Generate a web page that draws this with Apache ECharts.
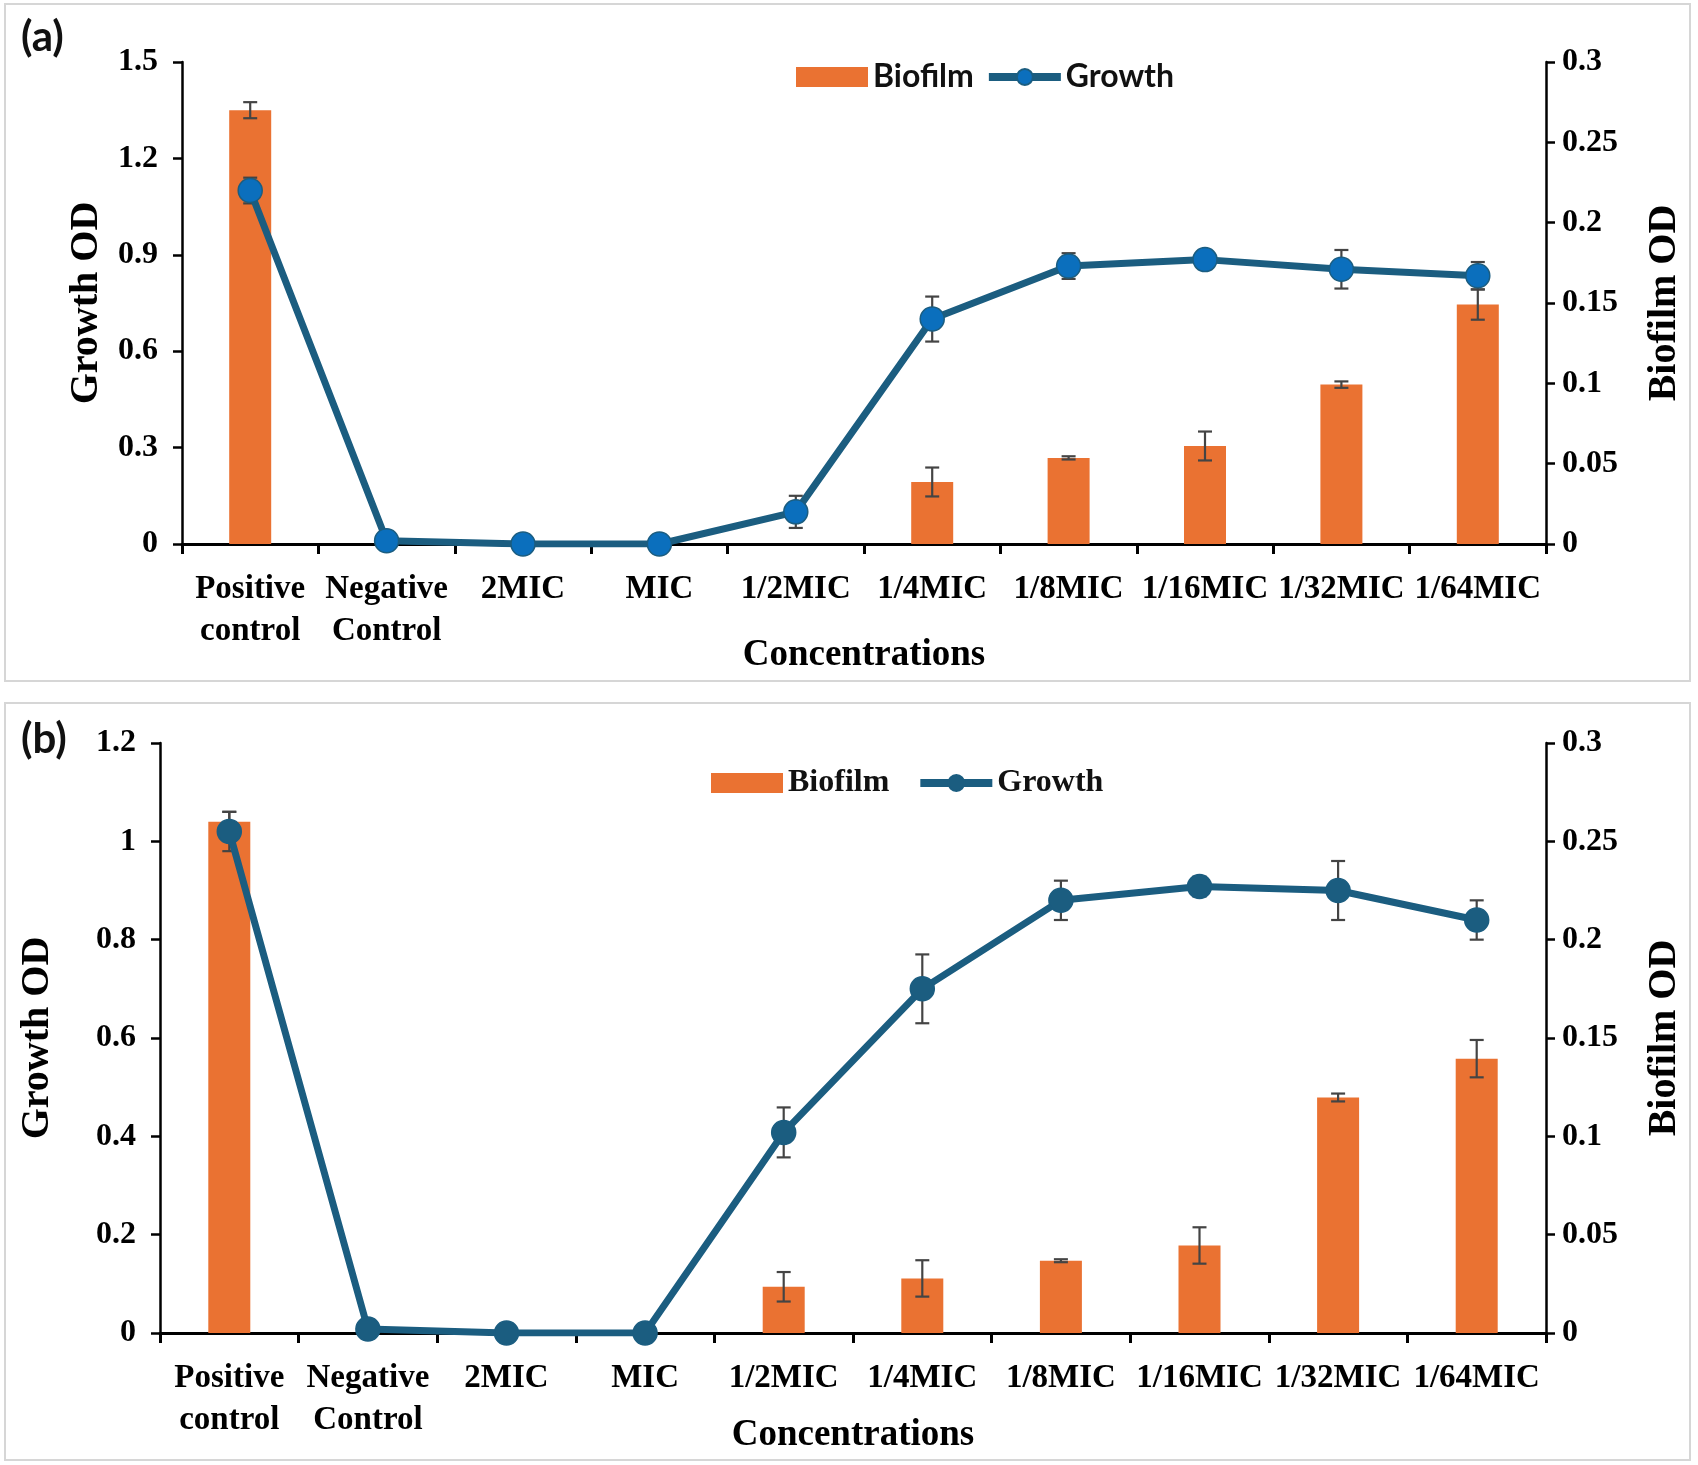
<!DOCTYPE html>
<html>
<head>
<meta charset="utf-8">
<script src="https://cdn.jsdelivr.net/npm/echarts@6/dist/echarts.min.js"></script>
<style>
  html, body { margin: 0; padding: 0; background: #fff; }
  #chart { width: 1698px; height: 1465px; }
</style>
</head>
<body>
<div id="chart"></div>
<script>
// categories (x axis)
var cats = ['Positive\ncontrol', 'Negative\nControl', '2MIC', 'MIC', '1/2MIC', '1/4MIC', '1/8MIC', '1/16MIC', '1/32MIC', '1/64MIC'];

// panel (a)
var biofilmA    = [1.35, 0, 0, 0, 0, 0.193, 0.268, 0.305, 0.496, 0.745];
var biofilmErrA = [0.025, 0, 0, 0, 0, 0.045, 0.005, 0.045, 0.01, 0.047];
var growthA     = [0.22, 0.002, 0, 0, 0.02, 0.14, 0.173, 0.177, 0.171, 0.167];
var growthErrA  = [0.008, 0, 0, 0, 0.01, 0.014, 0.008, 0.002, 0.012, 0.0085];

// panel (b)
var biofilmB    = [1.04, 0, 0, 0, 0.094, 0.111, 0.147, 0.178, 0.479, 0.558];
var biofilmErrB = [0.02, 0, 0, 0, 0.03, 0.037, 0.003, 0.037, 0.008, 0.038];
var growthB     = [0.255, 0.002, 0, 0, 0.102, 0.175, 0.22, 0.227, 0.225, 0.21];
var growthErrB  = [0.01, 0, 0, 0, 0.0127, 0.0175, 0.01, 0.005, 0.015, 0.01];

// tick labels
var leftTicksA  = [0, 0.3, 0.6, 0.9, 1.2, 1.5];
var leftTicksB  = [0, 0.2, 0.4, 0.6, 0.8, 1, 1.2];
var rightTicks  = [0, 0.05, 0.1, 0.15, 0.2, 0.25, 0.3];

var barColor = '#EA7232';
var lineColor = '#1B5D80';
var serif = 'Liberation Serif';

var chart = echarts.init(document.getElementById('chart'));

function fmt(v) { return String(+v.toFixed(3)); }

// 误差线
function errSeries(vals, errs, xi, yi, z) {
  return {
    type: 'custom',
    xAxisIndex: xi,
    yAxisIndex: yi,
    z: z,
    silent: true,
    data: vals.map(function (v, i) { return [i, v, errs[i]]; }),
    renderItem: function (params, api) {
      var e = api.value(2);
      if (!e) return;
      var x = api.value(0), v = api.value(1);
      var top = api.coord([x, v + e]);
      var bot = api.coord([x, v - e]);
      var hw = 7;
      var st = { stroke: '#444', lineWidth: 2.2 };
      return {
        type: 'group',
        children: [
          { type: 'line', shape: { x1: top[0], y1: top[1], x2: bot[0], y2: bot[1] }, style: st },
          { type: 'line', shape: { x1: top[0] - hw, y1: top[1], x2: top[0] + hw, y2: top[1] }, style: st },
          { type: 'line', shape: { x1: bot[0] - hw, y1: bot[1], x2: bot[0] + hw, y2: bot[1] }, style: st }
        ]
      };
    }
  };
}

function xAxis(gi, nameGap) {
  return {
    type: 'category',
    gridIndex: gi,
    data: cats,
    boundaryGap: true,
    axisLine: { lineStyle: { color: '#000', width: 3 } },
    axisTick: { show: true, length: 10, lineStyle: { color: '#000', width: 3 } },
    axisLabel: { interval: 0, color: '#000', fontFamily: serif, fontWeight: 'bold', fontSize: 33, lineHeight: 42, margin: 24 },
    name: 'Concentrations',
    nameLocation: 'middle',
    nameGap: nameGap,
    nameMoveOverlap: false,
    nameTextStyle: { color: '#000', fontFamily: serif, fontWeight: 'bold', fontSize: 37 }
  };
}

function yAxis(gi, ticks, pos, name, nameGap) {
  return {
    type: 'value',
    gridIndex: gi,
    position: pos,
    min: ticks[0],
    max: ticks[ticks.length - 1],
    interval: ticks[1] - ticks[0],
    splitLine: { show: false },
    axisLine: { show: true, lineStyle: { color: '#000', width: 2.5 } },
    axisTick: { show: true, inside: false, length: 9, lineStyle: { color: '#000', width: 2.5 } },
    axisLabel: { color: '#000', fontFamily: serif, fontWeight: 'bold', fontSize: 32, margin: pos === 'left' ? 24 : 16, formatter: fmt },
    name: name,
    nameLocation: 'middle',
    nameRotate: 90,
    nameGap: nameGap,
    nameMoveOverlap: false,
    nameTextStyle: { color: '#000', fontFamily: serif, fontWeight: 'bold', fontSize: 40 }
  };
}

function barSeries(vals, xi, yi) {
  return {
    name: 'Biofilm', type: 'bar', xAxisIndex: xi, yAxisIndex: yi,
    data: vals, barWidth: 42, z: 2,
    itemStyle: { color: barColor }
  };
}

function lineSeries(vals, xi, yi, dotColor) {
  return {
    name: 'Growth', type: 'line', xAxisIndex: xi, yAxisIndex: yi,
    data: vals, z: 5,
    symbol: 'circle', symbolSize: 24,
    lineStyle: { color: lineColor, width: 7 },
    itemStyle: { color: dotColor, borderColor: lineColor, borderWidth: 1.5 }
  };
}

var option = {
  backgroundColor: '#fff',
  animation: false,
  graphic: [
    { type: 'rect', shape: { x: 5, y: 4, width: 1685, height: 677 }, style: { fill: 'none', stroke: '#d6d6d6', lineWidth: 2 }, z: -1 },
    { type: 'rect', shape: { x: 5, y: 703, width: 1685, height: 757 }, style: { fill: 'none', stroke: '#d6d6d6', lineWidth: 2 }, z: -1 },
    { type: 'text', left: 21, top: 16, style: { text: '(a)', font: 'bold 42px Lato', fill: '#111' } },
    { type: 'text', left: 21, top: 718, style: { text: '(b)', font: 'bold 42px Lato', fill: '#111' } }
  ],
  legend: [
    {
      left: 796, top: 61, padding: 0, itemWidth: 72, itemHeight: 20, itemGap: 11,
      textStyle: { fontFamily: 'Lato', fontWeight: 'bold', fontSize: 32, color: '#111' },
      data: [
        { name: 'Biofilm', icon: 'rect' },
        { name: 'Growth', lineStyle: { width: 8, color: lineColor } }
      ]
    },
    {
      left: 711, top: 767, padding: 0, itemWidth: 72, itemHeight: 20, itemGap: 27,
      textStyle: { fontFamily: serif, fontWeight: 'bold', fontSize: 32, color: '#111' },
      data: [
        { name: 'Biofilm', icon: 'rect' },
        { name: 'Growth', itemStyle: { color: lineColor }, lineStyle: { width: 8, color: lineColor } }
      ]
    }
  ],
  grid: [
    { left: 182, right: 152, top: 62, height: 482, outerBoundsMode: 'none' },
    { left: 160, right: 152, top: 743, height: 590, outerBoundsMode: 'none' }
  ],
  xAxis: [xAxis(0, 93), xAxis(1, 84)],
  yAxis: [
    yAxis(0, leftTicksA, 'left', 'Growth OD', 75),
    yAxis(0, rightTicks, 'right', 'Biofilm OD', 99),
    yAxis(1, leftTicksB, 'left', 'Growth OD', 102),
    yAxis(1, rightTicks, 'right', 'Biofilm OD', 99)
  ],
  series: [
    barSeries(biofilmA, 0, 0),
    errSeries(biofilmA, biofilmErrA, 0, 0, 3),
    lineSeries(growthA, 0, 1, '#0B6FBD'),
    errSeries(growthA, growthErrA, 0, 1, 4),
    barSeries(biofilmB, 1, 2),
    errSeries(biofilmB, biofilmErrB, 1, 2, 3),
    lineSeries(growthB, 1, 3, lineColor),
    errSeries(growthB, growthErrB, 1, 3, 4)
  ]
};

chart.setOption(option);
</script>
</body>
</html>
